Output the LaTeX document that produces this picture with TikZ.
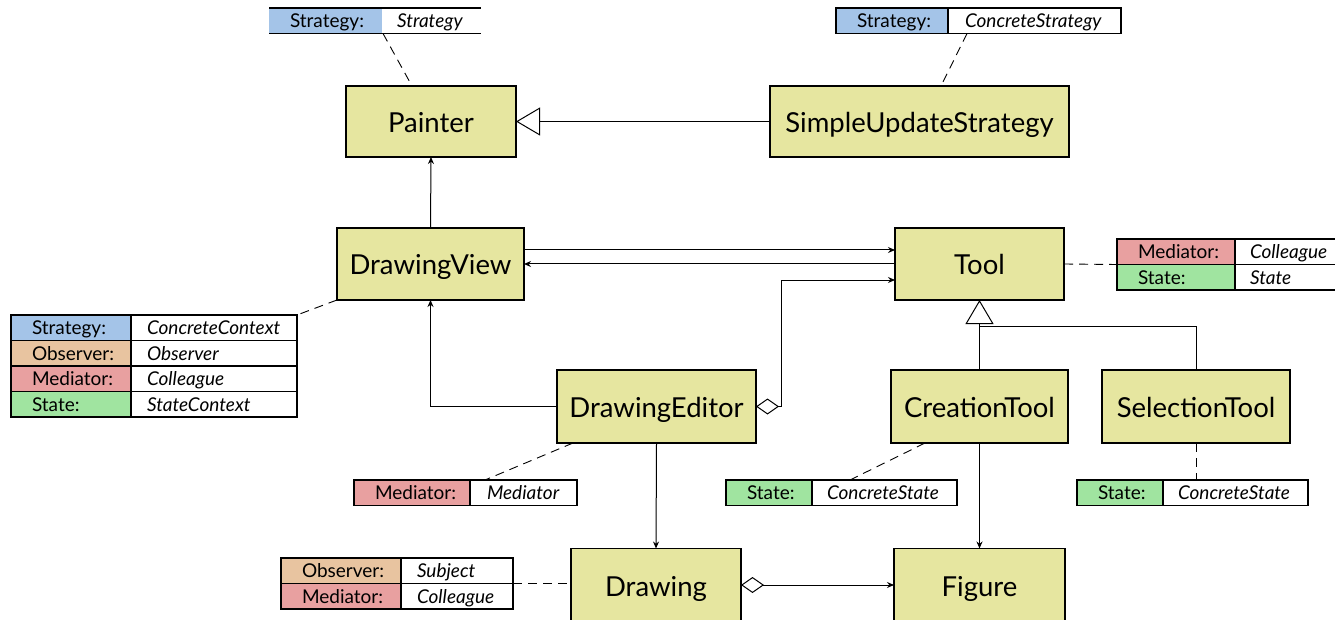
\documentclass[tikz,border=0pt]{standalone}
\usepackage{fontspec}
\setmainfont{Lato}
\usetikzlibrary{arrows.meta}
\definecolor{cstrat}{RGB}{164,196,232}
\definecolor{cobs}{RGB}{232,196,160}
\definecolor{cmed}{RGB}{232,160,160}
\definecolor{cstate}{RGB}{160,228,160}
\definecolor{cbox}{RGB}{230,230,160}
\begin{document}
\begin{tikzpicture}[x=1pt,y=-1pt,
  cls/.style={draw, line width=1.6pt, fill=cbox, inner sep=0pt, outer sep=0pt,
    text height=22pt, text depth=0pt, font=\fontsize{27.5}{32}\selectfont},
  keycell/.style={draw, line width=1.5pt, inner sep=0pt, outer sep=0pt,
    minimum height=25.5pt, text width=#1, align=left, anchor=north west,
    text height=15pt, text depth=1.5pt, font=\fontsize{19}{22}\selectfont},
  valcell/.style={keycell=#1, fill=white, font=\fontsize{19}{22}\selectfont\itshape},
  assoc/.style={line width=1pt, -{Stealth[length=7pt,width=6pt]}},
  gen/.style={line width=1pt, -{Triangle[open, length=24pt, width=28pt, fill=white]}},
  aggr/.style={line width=1pt, {Diamond[open, length=23pt, width=16pt, fill=white]}-{Stealth[length=7pt,width=6pt]}},
  plain/.style={line width=1pt},
  tagline/.style={line width=0.9pt, dash pattern=on 9pt off 6pt},
]
\useasboundingbox (0,0) rectangle (1335,620);

% classes
\node[cls, minimum width=170pt, minimum height=71pt] (Painter) at (431,121.5) {Painter};
\node[cls, minimum width=299pt, minimum height=71pt] (SUS) at (919.5,121.5) {SimpleUpdateStrategy};
\node[cls, minimum width=187pt, minimum height=72pt] (DrawingView) at (430.5,264) {DrawingView};
\node[cls, minimum width=169pt, minimum height=72pt] (Tool) at (979.5,264) {Tool};
\node[cls, minimum width=199pt, minimum height=73pt] (DrawingEditor) at (656.5,406.5) {DrawingEditor};
\node[cls, minimum width=177pt, minimum height=73pt] (CreationTool) at (979.5,406.5) {CreationTool};
\node[cls, minimum width=188pt, minimum height=73pt] (SelectionTool) at (1196,406.5) {SelectionTool};
\node[cls, minimum width=170pt, minimum height=73pt] (Drawing) at (656,585) {Drawing};
\node[cls, minimum width=171pt, minimum height=73pt] (Figure) at (979.5,585) {Figure};

% pattern tags
% Painter: only top and bottom rules
\node[keycell=113pt, draw=none, fill=cstrat] (pk) at (269,8) {\hspace*{21pt}Strategy:};
\node[valcell=99pt, draw=none] (pv) at (pk.north east) {\hspace*{15pt}Strategy};
\draw[line width=1.5pt] (pk.north west) -- (pv.north east);
\draw[line width=1.5pt] (pk.south west) -- (pv.south east);

% SimpleUpdateStrategy
\node[keycell=112pt, fill=cstrat] (sk) at (836,8) {\hspace*{21pt}Strategy:};
\node[valcell=173pt] (sv) at (sk.north east) {\hspace*{17pt}ConcreteStrategy};

% Tool
\node[keycell=118pt, fill=cmed] (tk1) at (1117,239) {\hspace*{21pt}Mediator:};
\node[valcell=102pt] (tv1) at (tk1.north east) {\hspace*{15pt}Colleague};
\node[keycell=118pt, fill=cstate] (tk2) at (tk1.south west) {\hspace*{21pt}State:};
\node[valcell=102pt] (tv2) at (tk2.north east) {\hspace*{15pt}State};

% DrawingView
\node[keycell=120pt, fill=cstrat] (dk1) at (11,315) {\hspace*{21pt}Strategy:};
\node[valcell=166pt] (dv1) at (dk1.north east) {\hspace*{16pt}ConcreteContext};
\node[keycell=120pt, fill=cobs] (dk2) at (dk1.south west) {\hspace*{21pt}Observer:};
\node[valcell=166pt] (dv2) at (dk2.north east) {\hspace*{16pt}Observer};
\node[keycell=120pt, fill=cmed] (dk3) at (dk2.south west) {\hspace*{21pt}Mediator:};
\node[valcell=166pt] (dv3) at (dk3.north east) {\hspace*{16pt}Colleague};
\node[keycell=120pt, fill=cstate] (dk4) at (dk3.south west) {\hspace*{21pt}State:};
\node[valcell=166pt] (dv4) at (dk4.north east) {\hspace*{16pt}StateContext};

% DrawingEditor
\node[keycell=116pt, fill=cmed] (ek) at (354,480) {\hspace*{21pt}Mediator:};
\node[valcell=107pt] (ev) at (ek.north east) {\hspace*{17pt}Mediator};

% CreationTool
\node[keycell=86pt, fill=cstate] (ck) at (726,480) {\hspace*{21pt}State:};
\node[valcell=145pt] (cv) at (ck.north east) {\hspace*{15pt}ConcreteState};

% SelectionTool
\node[keycell=86pt, fill=cstate] (stk) at (1077,480) {\hspace*{21pt}State:};
\node[valcell=145pt] (stv) at (stk.north east) {\hspace*{15pt}ConcreteState};

% Drawing
\node[keycell=120pt, fill=cobs] (gk1) at (281,558) {\hspace*{21pt}Observer:};
\node[valcell=112pt] (gv1) at (gk1.north east) {\hspace*{16pt}Subject};
\node[keycell=120pt, fill=cmed] (gk2) at (gk1.south west) {\hspace*{21pt}Mediator:};
\node[valcell=112pt] (gv2) at (gk2.north east) {\hspace*{16pt}Colleague};

% tag links
\draw[tagline] ([xshift=1pt]pv.south west) -- ([xshift=-19pt]Painter.north);
\draw[tagline] ([xshift=19pt]sv.south west) -- ([xshift=21.5pt]SUS.north);
\draw[tagline] (Tool.east) -- (tk1.south west);
\draw[tagline] (DrawingView.south west) -- (dv1.north east);
\draw[tagline] ([xshift=16pt]DrawingEditor.south west) -- ([xshift=15pt]ev.north west);
\draw[tagline] ([xshift=34pt]CreationTool.south west) -- ([xshift=38pt]cv.north west);
\draw[tagline] (SelectionTool.south) -- (SelectionTool.south |- stv.north);
\draw[tagline] (gv1.south east) -- (Drawing.west |- gv1.south east);

% relations
\draw[gen] (SUS.west) -- (Painter.east);
\draw[assoc] (DrawingView.north) -- (Painter.south);
\draw[assoc] ([yshift=14pt]DrawingView.east) -- ([yshift=14pt]Tool.west);
\draw[assoc] (Tool.west) -- (DrawingView.east);
\draw[aggr] (DrawingEditor.east) -- ++(25,0) |- ([yshift=-16pt]Tool.west);
\draw[assoc] (DrawingEditor.west) -| (DrawingView.south);
\coordinate (genbase) at (979.5,326);
\draw[gen] (genbase) -- (Tool.south);
\draw[plain] (CreationTool.north) -- (genbase) -| (SelectionTool.north);
\draw[assoc] (DrawingEditor.south) -- (Drawing.north);
\draw[assoc] (CreationTool.south) -- (Figure.north);
\draw[aggr] (Drawing.east) -- (Figure.west);
\end{tikzpicture}
\end{document}
